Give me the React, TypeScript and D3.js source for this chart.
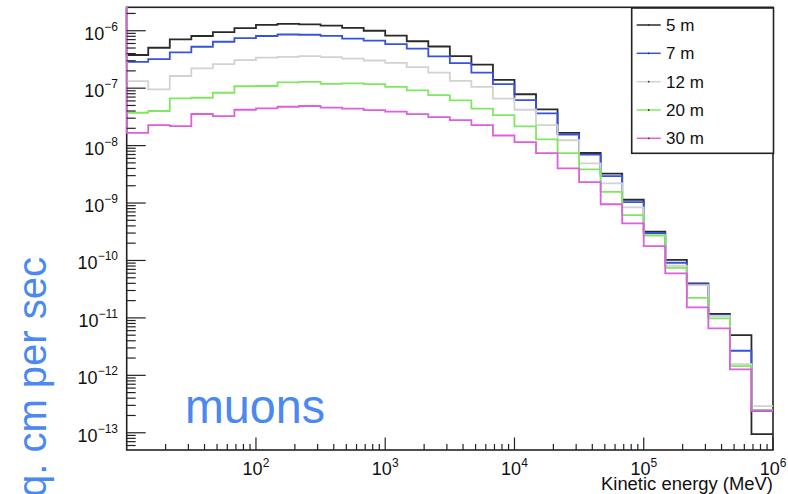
import React from 'react';
import * as d3 from 'd3';

// Histogram bins: 30 log-equal bins from 10 MeV to 1e6 MeV (6 per decade)
const binEdges = d3.range(31).map((i) => Math.pow(10, 1 + i / 6));

const seriesNames = ['5 m', '7 m', '12 m', '20 m', '30 m'];
const seriesColors = ['#2a2a2a', '#3553e0', '#d2d2d2', '#7fe860', '#de5ede'];

const s5m = [3.78e-7, 5.06e-7, 7.08e-7, 8.09e-7, 9.49e-7, 1.11e-6, 1.26e-6, 1.32e-6, 1.29e-6, 1.23e-6, 1.12e-6, 1.0e-6, 8.25e-7, 6.56e-7, 5.31e-7, 3.6e-7, 2.56e-7, 1.39e-7, 7.84e-8, 4.28e-8, 1.66e-8, 7.43e-9, 3.24e-9, 1.14e-9, 3.16e-10, 1.02e-10, 4.0e-11, 1.17e-11, 5.03e-12, 9.5e-14];
const s7m = [2.88e-7, 3.21e-7, 4.21e-7, 5.26e-7, 6.43e-7, 7.46e-7, 8.09e-7, 8.59e-7, 8.51e-7, 8.15e-7, 7.26e-7, 6.7e-7, 5.86e-7, 4.89e-7, 3.58e-7, 2.74e-7, 1.86e-7, 1.18e-7, 6.21e-8, 3.65e-8, 1.56e-8, 6.94e-9, 2.95e-9, 1.04e-9, 3.0e-10, 9.12e-11, 3.88e-11, 1.12e-11, 2.68e-12, 2.39e-13];
const s12m = [1.33e-7, 9.55e-8, 1.63e-7, 2.21e-7, 2.63e-7, 3.09e-7, 3.41e-7, 3.51e-7, 3.62e-7, 3.48e-7, 3.28e-7, 3.03e-7, 2.76e-7, 2.33e-7, 1.86e-7, 1.34e-7, 1.05e-7, 6.6e-8, 4.21e-8, 2.28e-8, 1.24e-8, 4.91e-9, 2.2e-9, 8.41e-10, 2.77e-10, 8.09e-11, 3.73e-11, 1.08e-11, 1.57e-12, 2.92e-13];
const s20m = [3.73e-8, 4.0e-8, 6.65e-8, 6.81e-8, 8.32e-8, 1.08e-7, 1.09e-7, 1.26e-7, 1.29e-7, 1.19e-7, 1.21e-7, 1.18e-7, 1.05e-7, 9.17e-8, 7.59e-8, 6.14e-8, 4.42e-8, 3.4e-8, 2.16e-8, 1.28e-8, 7.41e-9, 3.86e-9, 1.57e-9, 6.18e-10, 2.72e-10, 7.46e-11, 2.23e-11, 9.82e-12, 1.45e-12, 2.49e-13];
const s30m = [1.67e-8, 2.28e-8, 2.19e-8, 3.55e-8, 3.27e-8, 4.21e-8, 4.45e-8, 4.75e-8, 4.89e-8, 4.6e-8, 4.42e-8, 4.16e-8, 3.89e-8, 3.52e-8, 3.14e-8, 2.78e-8, 2.28e-8, 1.5e-8, 1.15e-8, 7.41e-9, 4.02e-9, 2.32e-9, 9.53e-10, 4.43e-10, 1.78e-10, 5.97e-11, 1.53e-11, 6.58e-12, 1.27e-12, 2.42e-13];

const allSeries = [s5m, s7m, s12m, s20m, s30m];

const xMajorExps = [2, 3, 4, 5, 6];
const yMajorExps = [-13, -12, -11, -10, -9, -8, -7, -6];

const xDomain = [10, 1e6];
const yDomain = [Math.pow(10, -13.3), Math.pow(10, -5.592)];

const FONT = '"Liberation Sans", Arial, Helvetica, sans-serif';
const BLUE_TEXT = '#4a88f2';

export default function App() {
  const W = 788;
  const H = 494;
  const left = 126.7;
  const right = 773;
  const top = 7.3;
  const bottom = 450;

  const x = d3.scaleLog().domain(xDomain).range([left, right]);
  const y = d3.scaleLog().domain(yDomain).range([bottom, top]);

  const line = d3.line<[number, number]>().x((d) => d[0]).y((d) => d[1]);

  const histPath = (vals: number[]) => {
    const pts: [number, number][] = [[x(binEdges[0]), top]];
    vals.forEach((v, i) => {
      pts.push([x(binEdges[i]), y(v)]);
      pts.push([x(binEdges[i + 1]), y(v)]);
    });
    return line(pts) || '';
  };

  // minor ticks
  const xMinor: number[] = [];
  for (let e = 1; e < 6; e++) for (let k = 2; k <= 9; k++) xMinor.push(k * Math.pow(10, e));
  const yMinor: number[] = [];
  for (let e = -14; e <= -6; e++)
    for (let k = 2; k <= 9; k++) {
      const v = k * Math.pow(10, e);
      if (v >= yDomain[0] && v <= yDomain[1]) yMinor.push(v);
    }

  const legX0 = 631.7;
  const legY0 = 8;
  const legX1 = 773.5;
  const legY1 = 153.3;
  const legRows = [25, 53.3, 81.7, 110, 138.3];

  return (
    <div style={{ position: 'fixed', left: 0, top: 0 }}>
      <svg width={W} height={H} style={{ display: 'block', background: '#fff' }} fontFamily={FONT}>
        <rect x={0} y={0} width={W} height={H} fill="#fff" />
        {/* frame */}
        <rect x={left} y={top} width={right - left} height={bottom - top} fill="none" stroke="#222" strokeWidth={1.6} />

        {/* histograms */}
        {allSeries.map((s, i) => (
          <path key={i} d={histPath(s)} fill="none" stroke={seriesColors[i]} strokeWidth={1.8} />
        ))}

        {/* x ticks */}
        {xMinor.map((v, i) => (
          <line key={'xm' + i} x1={x(v)} x2={x(v)} y1={bottom} y2={bottom - 6} stroke="#222" strokeWidth={1.2} />
        ))}
        {xMajorExps.map((e) => (
          <line key={'xM' + e} x1={x(Math.pow(10, e))} x2={x(Math.pow(10, e))} y1={bottom} y2={bottom - 12.5} stroke="#222" strokeWidth={1.2} />
        ))}
        {xMajorExps.map((e) => (
          <text key={'xl' + e} x={x(Math.pow(10, e))} y={475} textAnchor="middle" fontSize={18} fill="#111">
            10<tspan dy={-8} fontSize={12}>{e}</tspan>
          </text>
        ))}

        {/* y ticks */}
        {yMinor.map((v, i) => (
          <line key={'ym' + i} x1={left} x2={left + 9} y1={y(v)} y2={y(v)} stroke="#222" strokeWidth={1.2} />
        ))}
        {yMajorExps.map((e) => (
          <line key={'yM' + e} x1={left} x2={left + 19} y1={y(Math.pow(10, e))} y2={y(Math.pow(10, e))} stroke="#222" strokeWidth={1.2} />
        ))}
        {yMajorExps.map((e) => (
          <text key={'yl' + e} x={118} y={y(Math.pow(10, e)) + 9} textAnchor="end" fontSize={18} fill="#111">
            10<tspan dy={-9} fontSize={12}>{'\u2212' + Math.abs(e)}</tspan>
          </text>
        ))}

        {/* axis title */}
        <text x={773} y={490} textAnchor="end" fontSize={18} fill="#111" textLength={172} lengthAdjust="spacingAndGlyphs">
          Kinetic energy (MeV)
        </text>

        {/* legend */}
        <rect x={legX0} y={legY0} width={legX1 - legX0} height={legY1 - legY0} fill="#fff" stroke="#222" strokeWidth={1.6} />
        {seriesNames.map((n, i) => (
          <g key={'lg' + i}>
            <line x1={636.7} x2={660.7} y1={legRows[i]} y2={legRows[i]} stroke={seriesColors[i]} strokeWidth={1.5} />
            <circle cx={648.7} cy={legRows[i]} r={0.9} fill="#333" />
            <text x={666} y={legRows[i] + 6} fontSize={17} fill="#111">
              {n}
            </text>
          </g>
        ))}

        {/* annotations */}
        <text x={185} y={423} fontSize={48} fill={BLUE_TEXT} textLength={140} lengthAdjust="spacingAndGlyphs">
          muons
        </text>
        <text transform="translate(46,257) rotate(-90)" textAnchor="end" fontSize={40} fill={BLUE_TEXT}>
          Particles per sq. cm per sec
        </text>
      </svg>
    </div>
  );
}
